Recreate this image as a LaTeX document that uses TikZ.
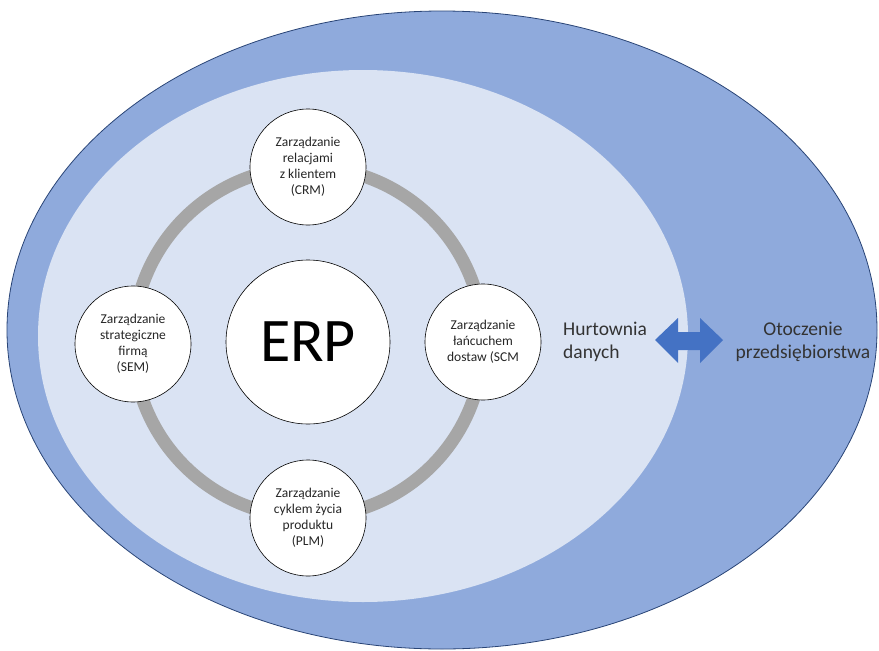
\documentclass[tikz,border=0pt]{standalone}
\usepackage{fontspec}
\setmainfont{Carlito}
\usetikzlibrary{positioning}
\definecolor{otoczenie}{HTML}{8FAADC}
\definecolor{firma}{HTML}{DAE3F3}
\definecolor{pierscien}{HTML}{A6A6A6}
\definecolor{strzalka}{HTML}{4472C4}

\begin{document}
\begin{tikzpicture}[x=1pt,y=-1pt,
  modul/.style={circle,draw=black,fill=white,semithick,minimum size=116pt,inner sep=0pt,align=center,
    font=\fontsize{13.5}{16}\selectfont,text=black!85},
  opis/.style={inner sep=0pt,font=\fontsize{19.5}{23}\selectfont,text=black!80}]
 \useasboundingbox (0,0) rectangle (879,651);
 \draw[fill=otoczenie,draw=strzalka!60!black,line width=0.8pt] (442,330) ellipse [x radius=435,y radius=319]; %otoczenie
 \fill[firma] (363,336) ellipse [x radius=325,y radius=266]; %przedsiębiorstwo
 \draw[pierscien,line width=13pt] (308,342) circle [radius=175]; %pierścień
 \node[modul,minimum size=164pt,font=\fontsize{62}{64}\selectfont,text=black] (erp) at (308,342) {ERP};
 \node[modul] (crm) at (308,167) {Zarządzanie\\relacjami\\z klientem\\(CRM)};
 \node[modul] (sem) at (133,344) {Zarządzanie\\strategiczne\\firmą\\(SEM)};
 \node[modul] (scm) at (483,342) {Zarządzanie\\łańcuchem\\dostaw (SCM};
 \node[modul] (plm) at (308,518) {Zarządzanie\\cyklem życia\\produktu\\(PLM)};
 \node[opis,align=left,anchor=north west] (hurtownia) at (563,322) {Hurtownia\\danych};
 \node[opis,align=center,anchor=north] (otoczenie) at (803,322) {Otoczenie\\przedsiębiorstwa};
 \fill[strzalka] (655,340) -- (678,318) -- (678,332) -- (700,332) -- (700,318) -- (723,340)
   -- (700,363) -- (700,350) -- (678,350) -- (678,363) -- cycle; %strzałka
\end{tikzpicture}
\end{document}
